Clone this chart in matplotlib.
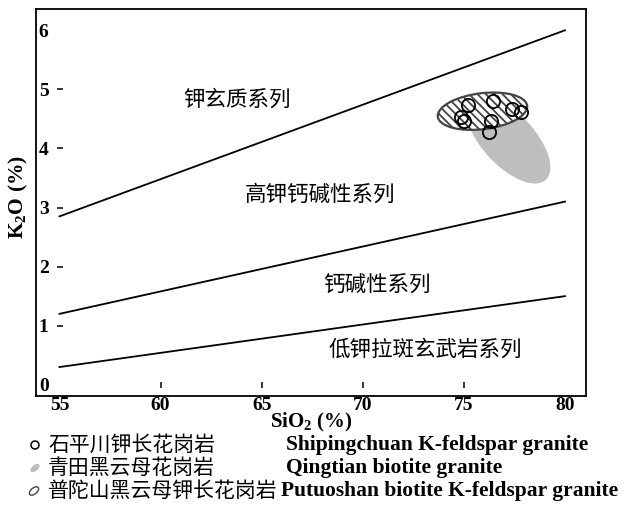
import matplotlib
matplotlib.use('Agg')
import matplotlib.pyplot as plt
from matplotlib.patches import Ellipse
from matplotlib.transforms import ScaledTranslation

plt.rcParams['font.family'] = ['Liberation Serif', 'Noto Sans CJK SC']
plt.rcParams['mathtext.fontset'] = 'custom'
plt.rcParams['mathtext.rm'] = 'Liberation Serif:bold'
plt.rcParams['mathtext.it'] = 'Liberation Serif:bold'
plt.rcParams['hatch.linewidth'] = 1.3

CJK = 'Noto Sans CJK SC'

# series boundaries (SiO2, K2O) end points
boundary_sio2 = [55, 80]
boundary_shoshonite = [2.85, 6.0]
boundary_high_k = [1.2, 3.1]
boundary_low_k = [0.3, 1.5]

# series names and where they sit
series_names = ['钾玄质系列', '高钾钙碱性系列', '钙碱性系列', '低钾拉斑玄武岩系列']
series_sio2 = [63.8, 67.9, 70.7, 73.1]
series_k2o = [4.83, 3.22, 1.67, 0.59]

# Shipingchuan K-feldspar granite samples
shp_sio2 = [75.22, 76.44, 74.88, 74.99, 76.36, 76.23, 77.36, 77.84]
shp_k2o = [4.73, 4.81, 4.53, 4.47, 4.47, 4.28, 4.66, 4.61]

# sample fields: centre (SiO2, K2O), axes in inches, tilt in degrees
qingtian_field = dict(sio2=77.2, k2o=4.15, major=1.10, minor=0.52, tilt=-47)
putuoshan_field = dict(sio2=75.92, k2o=4.63, major=0.90, minor=0.36, tilt=7)

legend_cn = ['石平川钾长花岗岩', '青田黑云母花岗岩', '普陀山黑云母钾长花岗岩']
legend_en = ['Shipingchuan K-feldspar granite', 'Qingtian biotite granite',
             'Putuoshan biotite K-feldspar granite']

xticks = [55, 60, 65, 70, 75, 80]
yticks = [0, 1, 2, 3, 4, 5, 6]

W, H = 628, 505
fig = plt.figure(figsize=(W / 100, H / 100), dpi=100)
ax = fig.add_axes([36 / W, 1 - 396 / H, 550 / W, 387 / H])
ax.set_xlim(53.84, 81.04)
ax.set_ylim(-0.19, 6.36)

for k2o in (boundary_shoshonite, boundary_high_k, boundary_low_k):
    ax.plot(boundary_sio2, k2o, color='black', lw=1.3)

for name, x, y in zip(series_names, series_sio2, series_k2o):
    ax.text(x, y, name, family=CJK, fontsize=15.5, fontweight='medium',
            ha='center', va='center')


def field(f, **kw):
    # ellipse sized in inches, anchored at a data point
    trans = fig.dpi_scale_trans + ScaledTranslation(f['sio2'], f['k2o'], ax.transData)
    return Ellipse((0, 0), f['major'], f['minor'], angle=f['tilt'], transform=trans, **kw)


ax.add_patch(field(qingtian_field, facecolor='#bebebe', edgecolor='none', zorder=2))
ax.add_patch(field(putuoshan_field, facecolor='white', edgecolor='#444444',
                   hatch='\\\\\\\\', lw=1.6, zorder=3))
ax.plot(shp_sio2, shp_k2o, 'o', ms=9.5, mfc='none', mec='black', mew=1.3, zorder=4)

# short tick dashes drawn inside the frame
ax.plot(xticks[1:-1], [0.0] * 4, '|', ms=4, mew=1.1, color='black')
ax.plot([55.05] * 5, yticks[1:-1], '_', ms=4, mew=1.1, color='black')

ax.set_xticks(xticks)
ax.set_yticks(yticks)
ax.tick_params(axis='x', length=0, pad=1, labelsize=14)
ax.tick_params(axis='y', length=0, pad=-9, labelsize=14)
for lab in ax.get_xticklabels() + ax.get_yticklabels():
    lab.set_fontweight('bold')
for s in ax.spines.values():
    s.set_linewidth(1.3)

ax.set_xlabel('SiO$_2$ (%)', fontsize=15, fontweight='bold', va='top')
ax.xaxis.set_label_coords(0.5, -0.038)
ax.set_ylabel('K$_2$O (%)', fontsize=15.5, fontweight='bold')
ax.yaxis.set_label_coords(-0.01, 0.514)

# legend written below the frame
rows_y = [445, 468, 491]
en_x = [286, 286, 281]
for cn, en, y, ex in zip(legend_cn, legend_en, rows_y, en_x):
    fig.text(48 / W, 1 - y / H, cn, family=CJK, fontsize=15, fontweight='medium',
             va='center')
    fig.text(ex / W, 1 - y / H, en, fontsize=15.5, fontweight='bold', va='center')

fig.add_artist(Ellipse((0.35, (H - rows_y[0]) / 100), 0.08, 0.08,
                       facecolor='none', edgecolor='black', lw=1.1,
                       transform=fig.dpi_scale_trans))
fig.add_artist(Ellipse((0.35, (H - rows_y[1]) / 100), 0.11, 0.06, angle=40,
                       facecolor='#bebebe', edgecolor='none',
                       transform=fig.dpi_scale_trans))
fig.add_artist(Ellipse((0.34, (H - rows_y[2]) / 100), 0.11, 0.06, angle=40,
                       facecolor='white', edgecolor='#444444', lw=1.0, hatch='/',
                       transform=fig.dpi_scale_trans))

fig.savefig('out.png', dpi=100)
